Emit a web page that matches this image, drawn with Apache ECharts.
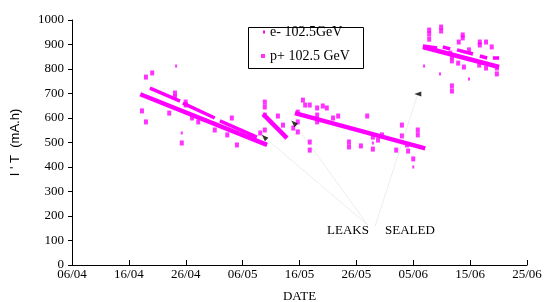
<!DOCTYPE html>
<html>
<head>
<meta charset="utf-8">
<script src="https://cdn.jsdelivr.net/npm/echarts@6/dist/echarts.min.js"></script>
<style>
  html, body { margin: 0; padding: 0; background: #fff; }
  #chart { width: 544px; height: 302px; }
</style>
</head>
<body>
<div id="chart"></div>
<script>
// x values are days counted from 06/04
const dateLabels = ["06/04", "16/04", "26/04", "06/05", "16/05", "26/05", "05/06", "15/06", "25/06"];
const yTicks = [0, 100, 200, 300, 400, 500, 600, 700, 800, 900, 1000];

// e- : dense runs (drawn as thick bands) and a few tiny points
const eBands = [
  [[12.0, 697], [34.3, 490]],
  [[33.6, 616], [37.8, 518]],
  [[39.2, 620], [62.1, 476]],
  [[61.7, 890], [75.1, 808]]
];
const eBandsUpper = [
  [[13.7, 722], [19.0, 669]],
  [[19.5, 661], [25.1, 600]],
  [[26.0, 588], [32.5, 522]],
  [[61.7, 894], [64.2, 886]],
  [[65.2, 890], [66.5, 882]],
  [[67.7, 878], [70.5, 861]],
  [[71.7, 853], [73.0, 845]],
  [[74.0, 845], [75.1, 845]]
];
const eDots = [[18.3, 812], [19.3, 539], [60.0, 400], [61.9, 812], [69.8, 759], [64.7, 780], [52.9, 498]];

// p+ : scattered points
const pDots = [
  [13.0, 767], [14.1, 784], [12.3, 629], [13.0, 584], [17.1, 620], [18.1, 702], [18.1, 686],
  [20.0, 665], [20.0, 653], [21.1, 600], [22.2, 584], [19.3, 498], [25.1, 551], [27.3, 531],
  [28.1, 600], [29.0, 490], [33.9, 665], [33.9, 645], [33.9, 612], [33.9, 551], [33.1, 539],
  [36.2, 608], [37.1, 571], [39.7, 624], [39.7, 584], [39.7, 543], [38.9, 559], [40.6, 673],
  [41.0, 653], [41.8, 653], [43.1, 641], [43.1, 612], [43.1, 584], [44.1, 649], [44.8, 641],
  [45.9, 600], [46.8, 608], [41.8, 502], [41.8, 469], [48.7, 502], [48.7, 482], [50.8, 486],
  [51.9, 608], [52.9, 522], [52.9, 473], [53.8, 510], [54.5, 531], [57.0, 469], [58.0, 571],
  [58.0, 527], [58.9, 490], [59.1, 465], [60.8, 551], [60.8, 531], [60.0, 433],
  [64.9, 971], [64.9, 955], [62.8, 959], [62.8, 943], [62.8, 922], [68.7, 939], [68.7, 927],
  [68.0, 910], [71.7, 910], [71.7, 898], [72.8, 910], [73.8, 890], [69.8, 878], [66.5, 865],
  [66.8, 849], [66.8, 833], [67.9, 824], [71.6, 816], [72.8, 804], [74.7, 804], [74.7, 780],
  [68.9, 808], [66.8, 731], [66.8, 710]
];

// annotation pointers (arrow tip -> label)
const arrowTips = [[33.8, 522], [39.0, 580], [60.8, 698]];
const arrowRot = [45, 45, 90];
const arrowEnds = [[52.0, 163], [52.0, 163], [53.3, 159]];

const MAG = "#ff00ff";
const serif = "Liberation Serif";

const chart = echarts.init(document.getElementById("chart"));

const series = [];
eBands.forEach((seg) => {
  series.push({
    name: "e- 102.5GeV", type: "line", data: seg, showSymbol: false, silent: true,
    lineStyle: { color: MAG, width: 4.5 }, itemStyle: { color: MAG }, z: 3
  });
});
eBandsUpper.forEach((seg) => {
  series.push({
    name: "e- 102.5GeV", type: "line", data: seg, showSymbol: false, silent: true,
    lineStyle: { color: MAG, width: 3.5 }, itemStyle: { color: MAG }, z: 3
  });
});
series.push({
  name: "e- 102.5GeV", type: "scatter", data: eDots, symbol: "rect", symbolSize: [2, 3],
  itemStyle: { color: MAG }
});
series.push({
  name: "p+ 102.5 GeV", type: "scatter", data: pDots, symbol: "rect", symbolSize: [4, 5],
  itemStyle: { color: MAG }
});
arrowTips.forEach((tip, i) => {
  series.push({
    type: "line", data: [tip, arrowEnds[i]], showSymbol: false, silent: true,
    lineStyle: { color: "#ededed", width: 1 }, z: 1
  });
});
series.push({
  type: "scatter", symbol: "triangle", symbolSize: [5, 7], silent: true,
  data: arrowTips.map((t, i) => ({ value: t, symbolRotate: arrowRot[i] })),
  itemStyle: { color: "#000" }, z: 4
});

const option = {
  animation: false,
  grid: { left: 72, right: 17, top: 20, bottom: 37, containLabel: false, outerBoundsMode: "none" },
  legend: [
    {
      data: ["e- 102.5GeV"], left: 263, top: 25, padding: 0, icon: "rect",
      itemWidth: 2, itemHeight: 3, selectedMode: false,
      textStyle: { fontFamily: serif, fontSize: 14, color: "#000" }
    },
    {
      data: ["p+ 102.5 GeV"], left: 261, top: 49, padding: 0, icon: "rect",
      itemWidth: 4, itemHeight: 4, selectedMode: false,
      textStyle: { fontFamily: serif, fontSize: 14, color: "#000" }
    }
  ],
  graphic: [
    { type: "rect", shape: { x: 248.5, y: 27.5, width: 115, height: 41 },
      style: { fill: null, stroke: "#000", lineWidth: 1 }, z: 100 },
    { type: "text", left: 327, top: 224, style: { text: "LEAKS", font: "13px 'Liberation Serif'", fill: "#000" } },
    { type: "text", left: 385, top: 224, style: { text: "SEALED", font: "13px 'Liberation Serif'", fill: "#000" } }
  ],
  xAxis: {
    type: "value", min: 0, max: 80, interval: 10,
    name: "DATE", nameLocation: "middle", nameGap: 25,
    nameTextStyle: { fontFamily: serif, fontSize: 13, color: "#000" },
    axisLine: { lineStyle: { color: "#000", width: 1 } },
    axisTick: { inside: true, length: 5, lineStyle: { color: "#000" } },
    splitLine: { show: false },
    axisLabel: {
      margin: 3, fontFamily: serif, fontSize: 13, color: "#000",
      formatter: (v) => dateLabels[Math.round(v / 10)]
    }
  },
  yAxis: {
    type: "value", min: yTicks[0], max: yTicks[yTicks.length - 1], interval: 100,
    name: "I ' T  (mA.h)", nameLocation: "middle", nameGap: 50, nameRotate: 90,
    nameTextStyle: { fontFamily: "Liberation Sans", fontSize: 13, color: "#000" },
    axisLine: { show: true, lineStyle: { color: "#000", width: 1 } },
    axisTick: { show: true, length: 4, lineStyle: { color: "#000" } },
    splitLine: { show: false },
    axisLabel: {
      margin: 8, fontFamily: serif, fontSize: 13, color: "#000",
      formatter: (v) => String(v)
    }
  },
  series: series
};

chart.setOption(option);
</script>
</body>
</html>
